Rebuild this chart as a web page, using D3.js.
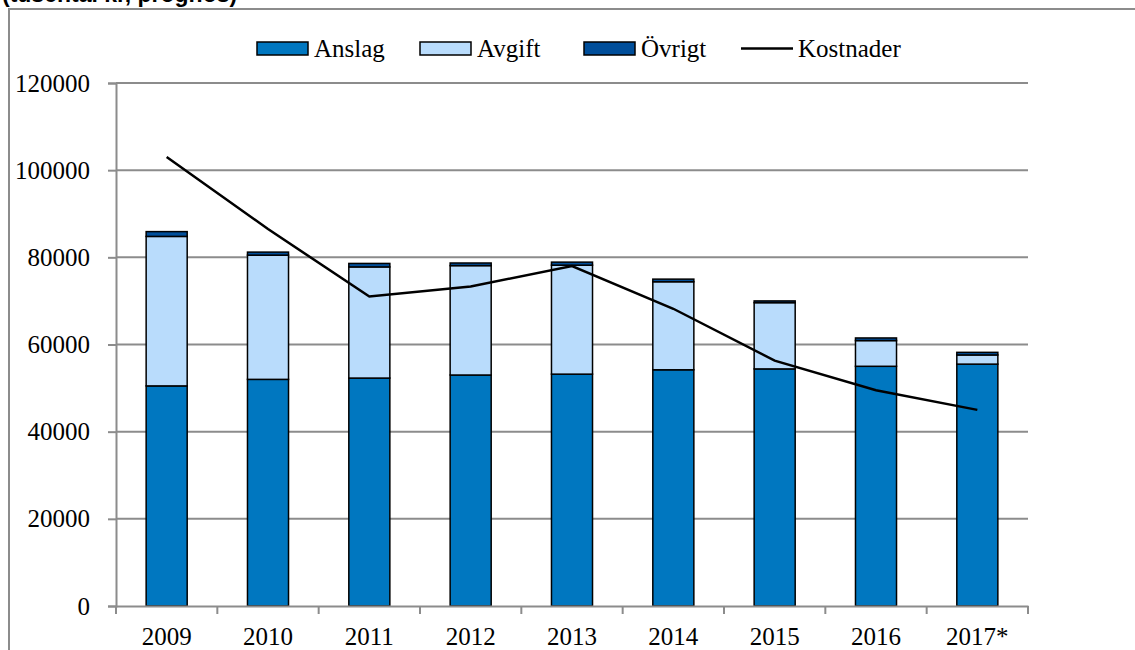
<!DOCTYPE html>
<html>
<head>
<meta charset="utf-8">
<script src="https://cdn.jsdelivr.net/npm/d3@7"></script>
<style>
  body { margin: 0; background: #fff; }
  svg { display: block; }
  text { font-family: "Liberation Serif", "Times New Roman", serif; fill: #000; }
</style>
</head>
<body>
<svg width="1135" height="650"></svg>
<script>
// values in tkr
var years = ["2009", "2010", "2011", "2012", "2013", "2014", "2015", "2016", "2017*"];
var anslag = [50500, 52000, 52300, 53000, 53200, 54200, 54400, 55000, 55500];
var avgift = [34300, 28500, 25500, 25100, 25000, 20200, 15200, 5900, 2100];
var ovrigt = [1100, 700, 800, 600, 700, 600, 400, 600, 600];
var kostnader = [103000, 86500, 71000, 73300, 78000, 68200, 56300, 49500, 45000];
var yTicks = [0, 20000, 40000, 60000, 80000, 100000, 120000];

var seriesNames = ["Anslag", "Avgift", "Övrigt"];
var colors = ["#0077c0", "#b9dcfc", "#004e9a"];

var svg = d3.select("svg"),
    plotLeft = 116, plotRight = 1028, plotTop = 83, plotBottom = 606;

// outer frame (partly outside the view) and cut-off caption
svg.append("rect")
    .attr("x", 9).attr("y", 9)
    .attr("width", 1200).attr("height", 700)
    .attr("fill", "none")
    .attr("stroke", "#8c8c8c")
    .attr("stroke-width", 2);

svg.append("text")
    .attr("x", 2).attr("y", 2)
    .style("font-family", "Liberation Sans, Arial, sans-serif")
    .style("font-weight", "bold")
    .style("font-size", "23px")
    .text("(tusental kr, prognos)");

var x = d3.scaleBand()
    .domain(years)
    .range([plotLeft, plotRight])
    .paddingInner(0.595)
    .paddingOuter(0.2975);

var y = d3.scaleLinear()
    .domain([0, 120000])
    .range([plotBottom, plotTop]);

// gridlines
svg.append("g")
    .selectAll("line")
    .data(yTicks.slice(1))
    .enter().append("line")
    .attr("x1", plotLeft).attr("x2", plotRight)
    .attr("y1", function (d) { return y(d); })
    .attr("y2", function (d) { return y(d); })
    .attr("stroke", "#8c8c8c")
    .attr("stroke-width", 2);

// stacked bars
var rows = years.map(function (yr, i) {
    return { year: yr, Anslag: anslag[i], Avgift: avgift[i], "Övrigt": ovrigt[i] };
});
var stack = d3.stack().keys(seriesNames)(rows);

svg.append("g")
    .selectAll("g")
    .data(stack)
    .enter().append("g")
    .attr("fill", function (d, i) { return colors[i]; })
    .selectAll("rect")
    .data(function (d) { return d; })
    .enter().append("rect")
    .attr("x", function (d) { return x(d.data.year); })
    .attr("width", x.bandwidth())
    .attr("y", function (d) { return y(d[1]); })
    .attr("height", function (d) { return y(d[0]) - y(d[1]); })
    .attr("stroke", "#000")
    .attr("stroke-width", 1.5);

// y axis
var yAxis = svg.append("g")
    .attr("transform", "translate(" + plotLeft + ",0)")
    .call(d3.axisLeft(y).tickValues(yTicks).tickSize(8).tickPadding(18).tickFormat(d3.format("d")));
yAxis.select(".domain").attr("stroke", "#8c8c8c").attr("stroke-width", 2);
yAxis.selectAll(".tick line").attr("stroke", "#8c8c8c").attr("stroke-width", 2);
yAxis.selectAll("text")
    .style("font-family", "Liberation Serif, Times New Roman, serif")
    .style("font-size", "25px");

// x axis
var xAxis = svg.append("g")
    .attr("transform", "translate(0," + plotBottom + ")")
    .call(d3.axisBottom(x).tickSize(0).tickPadding(21));
xAxis.select(".domain").attr("stroke", "#8c8c8c").attr("stroke-width", 2);
xAxis.selectAll("text")
    .style("font-family", "Liberation Serif, Times New Roman, serif")
    .style("font-size", "25px");

svg.append("g")
    .selectAll("line")
    .data(d3.range(years.length + 1))
    .enter().append("line")
    .attr("x1", function (i) { return plotLeft + i * x.step(); })
    .attr("x2", function (i) { return plotLeft + i * x.step(); })
    .attr("y1", plotBottom)
    .attr("y2", plotBottom + 8)
    .attr("stroke", "#8c8c8c")
    .attr("stroke-width", 2);

// Kostnader line
var line = d3.line()
    .x(function (d, i) { return x(years[i]) + x.bandwidth() / 2; })
    .y(function (d) { return y(d); });

svg.append("path")
    .datum(kostnader)
    .attr("d", line)
    .attr("fill", "none")
    .attr("stroke", "#000")
    .attr("stroke-width", 2.5);

// legend
var legend = [
    { name: "Anslag", x: 257, color: colors[0] },
    { name: "Avgift", x: 420, color: colors[1] },
    { name: "Övrigt", x: 584, color: colors[2] }
];
var lg = svg.append("g");
legend.forEach(function (d) {
    lg.append("rect")
        .attr("x", d.x).attr("y", 42)
        .attr("width", 51).attr("height", 13)
        .attr("fill", d.color)
        .attr("stroke", "#000")
        .attr("stroke-width", 1.5);
    lg.append("text")
        .attr("x", d.x + 57).attr("y", 57)
        .style("font-size", "25px")
        .text(d.name);
});
lg.append("line")
    .attr("x1", 741).attr("x2", 793)
    .attr("y1", 48.5).attr("y2", 48.5)
    .attr("stroke", "#000")
    .attr("stroke-width", 2.5);
lg.append("text")
    .attr("x", 798).attr("y", 57)
    .style("font-size", "25px")
    .text("Kostnader");
</script>
</body>
</html>
